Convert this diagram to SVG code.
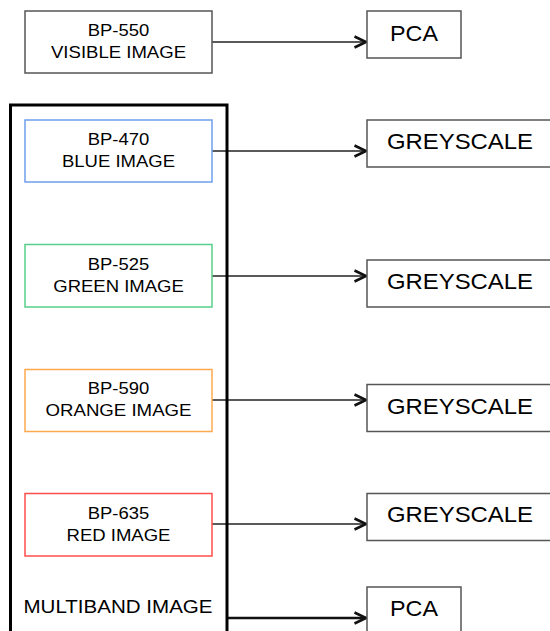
<svg xmlns="http://www.w3.org/2000/svg" width="550" height="631" viewBox="0 0 550 631">
<style>
  .box{fill:#fff;stroke:#555;stroke-width:1.5}
  .t{font-family:"Liberation Sans",Arial,sans-serif;fill:#000;text-anchor:middle}
  .s{font-size:16.5px}
  .b{font-size:22px}
  .e{stroke:#222;stroke-width:1.4;fill:none}
  .eb{stroke:#111;stroke-width:2.7;fill:none}
</style>
<defs>
  <marker id="ah" markerUnits="userSpaceOnUse" markerWidth="16" markerHeight="14" refX="13" refY="7" orient="auto" viewBox="0 0 16 14">
    <polyline points="1.5,1.5 13,7 1.5,12.5" fill="none" stroke="#111" stroke-width="2.6" stroke-linejoin="miter"/>
  </marker>
</defs>
<rect width="550" height="631" fill="#fff"/>
<g id="edges">
  <line class="e" x1="212" y1="42" x2="366" y2="42" marker-end="url(#ah)"/>
  <line class="e" x1="212" y1="151" x2="366" y2="151" marker-end="url(#ah)"/>
  <line class="e" x1="212" y1="276" x2="366" y2="276" marker-end="url(#ah)"/>
  <line class="e" x1="212" y1="400" x2="366" y2="400" marker-end="url(#ah)"/>
  <line class="e" x1="212" y1="524" x2="366" y2="524" marker-end="url(#ah)"/>
  <line class="eb" x1="227" y1="618" x2="366" y2="618" marker-end="url(#ah)"/>
</g>
<g id="multiband">
  <rect x="10.5" y="105" width="216.5" height="545" fill="none" stroke="#000" stroke-width="3"/>
  <text class="t" x="118" y="613" font-size="17.5" textLength="189" lengthAdjust="spacingAndGlyphs">MULTIBAND IMAGE</text>
</g>
<g id="bp550">
  <rect class="box" x="25" y="11" width="187" height="62"/>
  <text class="t s" x="118.5" y="36" textLength="61.5" lengthAdjust="spacingAndGlyphs">BP-550</text>
  <text class="t s" x="118.5" y="58" textLength="135" lengthAdjust="spacingAndGlyphs">VISIBLE IMAGE</text>
</g>
<g id="bp470">
  <rect x="25" y="120" width="187" height="62" fill="#fff" stroke="#6d9eeb" stroke-width="1.5"/>
  <text class="t s" x="118.5" y="145" textLength="61.5" lengthAdjust="spacingAndGlyphs">BP-470</text>
  <text class="t s" x="118.5" y="167" textLength="113" lengthAdjust="spacingAndGlyphs">BLUE IMAGE</text>
</g>
<g id="bp525">
  <rect x="25" y="244.5" width="187" height="62.5" fill="#fff" stroke="#57cf8a" stroke-width="1.5"/>
  <text class="t s" x="118.5" y="269.5" textLength="61.5" lengthAdjust="spacingAndGlyphs">BP-525</text>
  <text class="t s" x="118.5" y="291.5" textLength="130.5" lengthAdjust="spacingAndGlyphs">GREEN IMAGE</text>
</g>
<g id="bp590">
  <rect x="25" y="369.5" width="187" height="62" fill="#fff" stroke="#ffa94d" stroke-width="1.5"/>
  <text class="t s" x="118.5" y="394" textLength="61.5" lengthAdjust="spacingAndGlyphs">BP-590</text>
  <text class="t s" x="118.5" y="416" textLength="146" lengthAdjust="spacingAndGlyphs">ORANGE IMAGE</text>
</g>
<g id="bp635">
  <rect x="25" y="493.5" width="187" height="62.5" fill="#fff" stroke="#ff4d4d" stroke-width="1.5"/>
  <text class="t s" x="118.5" y="518.5" textLength="61.5" lengthAdjust="spacingAndGlyphs">BP-635</text>
  <text class="t s" x="118.5" y="540.5" textLength="104" lengthAdjust="spacingAndGlyphs">RED IMAGE</text>
</g>
<g id="pca1">
  <rect class="box" x="367" y="11" width="94" height="47"/>
  <text class="t b" x="414" y="41" textLength="48" lengthAdjust="spacingAndGlyphs">PCA</text>
</g>
<g id="grey1">
  <rect class="box" x="367" y="120" width="200" height="47"/>
  <text class="t b" x="460" y="148.5" textLength="146" lengthAdjust="spacingAndGlyphs">GREYSCALE</text>
</g>
<g id="grey2">
  <rect class="box" x="367" y="260" width="200" height="47"/>
  <text class="t b" x="460" y="288.5" textLength="146" lengthAdjust="spacingAndGlyphs">GREYSCALE</text>
</g>
<g id="grey3">
  <rect class="box" x="367" y="384.5" width="200" height="47"/>
  <text class="t b" x="460" y="413.5" textLength="146" lengthAdjust="spacingAndGlyphs">GREYSCALE</text>
</g>
<g id="grey4">
  <rect class="box" x="367" y="493.5" width="200" height="47"/>
  <text class="t b" x="460" y="522" textLength="146" lengthAdjust="spacingAndGlyphs">GREYSCALE</text>
</g>
<g id="pca2">
  <rect class="box" x="367" y="587" width="94" height="60"/>
  <text class="t b" x="414" y="616" textLength="48" lengthAdjust="spacingAndGlyphs">PCA</text>
</g>
</svg>
